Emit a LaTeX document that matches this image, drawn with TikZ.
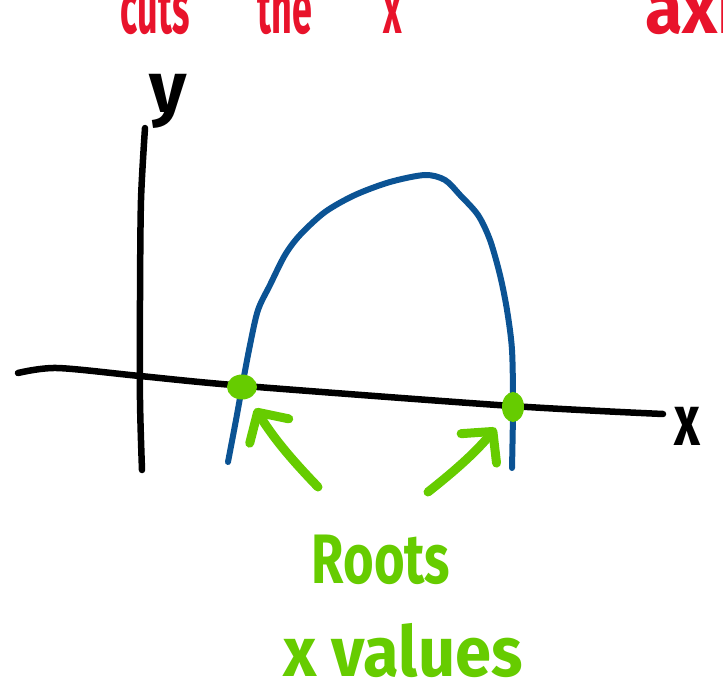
\documentclass[tikz,border=0pt]{standalone}
\usepackage{fontspec}
\setmainfont{Fira Sans}
\usetikzlibrary{arrows.meta,shapes.geometric}
\definecolor{skred}{HTML}{E8132B}
\definecolor{skblue}{HTML}{0B5394}
\definecolor{skgreen}{HTML}{66CC00}
\definecolor{skink}{HTML}{000000}
\tikzset{
  axl/.style={draw=skink, line width=6.5pt, line cap=round, line join=round},
  crv/.style={draw=skblue, line width=6pt, line cap=round},
  dot/.style={ellipse, fill=skgreen, inner sep=0pt},
  ptr/.style={draw=skgreen, line width=9pt, line cap=round, -{Straight Barb[length=22pt, width=46pt, round]}},
  hd/.style={text=skred, font=\fontsize{72}{72}\selectfont\bfseries, xscale=0.5, transform shape, inner sep=0pt, anchor=base},
  grn/.style={text=skgreen, font=\fontsize{70}{70}\selectfont\bfseries, inner sep=0pt, anchor=base},
  lbl/.style={text=skink, font=\fontsize{72}{72}\selectfont\bfseries, inner sep=0pt, anchor=base},
}
\begin{document}
\begin{tikzpicture}[x=1pt, y=-1pt]
  \useasboundingbox (0,0) rectangle (723,682);
  \clip (0,0) rectangle (723,682);
  \draw[axl] plot[smooth] coordinates {(145,128) (141,200) (140,300) (140,400) (142,470)};
  \draw[axl] plot[smooth] coordinates {(18,373) (57,368) (140,376) (245,386) (512,406) (663,414)};
  \draw[crv] plot[smooth] coordinates {(228,462) (236,420) (242,387) (250,345) (258,310) (270,285) (285,255) (300,235) (325,212) (355,195) (390,182) (425,175) (445,180) (460,195) (478,215) (490,240) (500,275) (507,310) (512,350) (513,407) (512,468)};
  \node[dot, minimum width=30pt, minimum height=25pt] (r1) at (242,387) {};
  \node[dot, minimum width=22pt, minimum height=30pt] (r2) at (513,407) {};
  \node[lbl] (ylab) at (168,113) {y};
  \node[lbl, xscale=0.7, transform shape] (xlab) at (687,445) {x};
  \node[hd] (w1) at (155,34) {cuts};
  \node[hd] (w2) at (285,34) {the};
  \node[hd] (w3) at (393,34) {x};
  \node[hd, xscale=1.9, anchor=base west] (w4) at (645,34) {axis};
  \node[grn, xscale=0.75, transform shape] (roots) at (381,583) {Roots};
  \node[grn, xscale=0.93, transform shape] (xval) at (403,676) {x values};
  \coordinate (a1) at (318,487);
  \coordinate (a2) at (428,492);
  \draw[ptr, shorten >=12pt] (a1) to[bend left=6] (r1);
  \draw[ptr, shorten >=14pt] (a2) to[bend right=6] (r2);
\end{tikzpicture}
\end{document}
